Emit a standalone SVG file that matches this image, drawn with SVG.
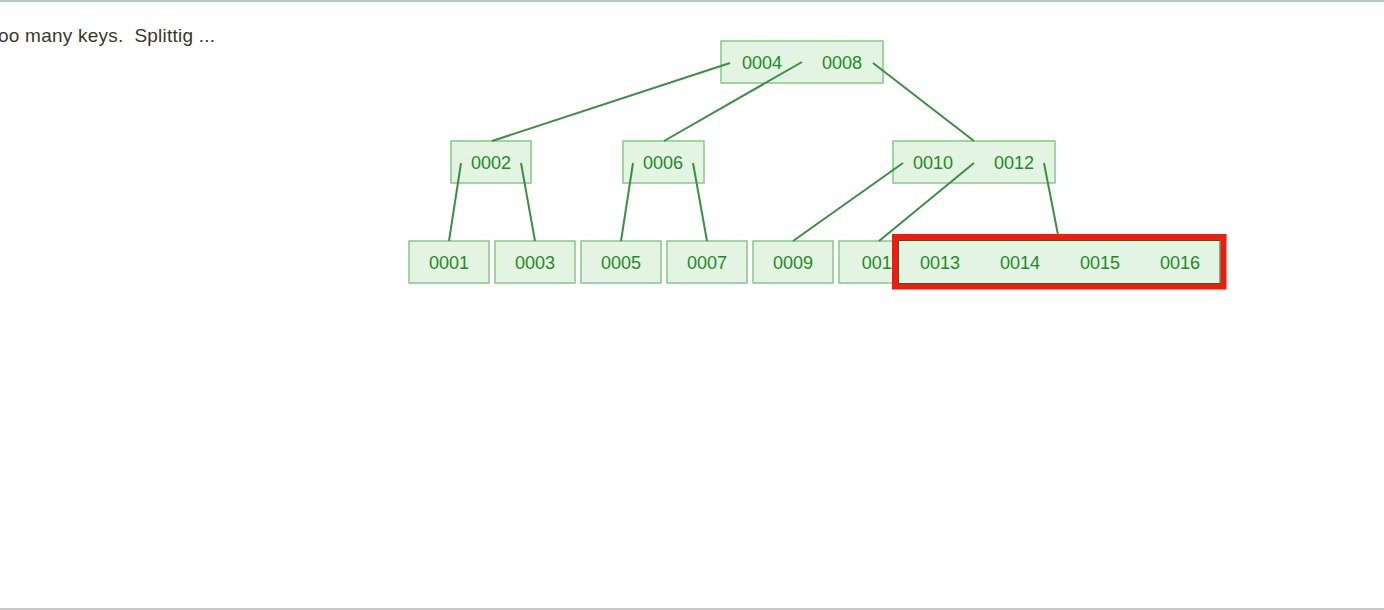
<svg xmlns="http://www.w3.org/2000/svg" width="1384" height="610" viewBox="0 0 1384 610">
<style>
.n{fill:#e3f4e3;stroke:#86c886;stroke-width:1.5}
.t{font-family:"Liberation Sans",Arial,sans-serif;font-size:18px;fill:#1f8a24;text-anchor:middle}
.e{stroke:#3a9040;stroke-width:2;fill:none}
</style>
<rect width="1384" height="610" fill="#ffffff"/>
<line x1="0" y1="1" x2="1384" y2="1" stroke="#9fb39f" stroke-width="1.5"/>
<line x1="0" y1="609" x2="1384" y2="609" stroke="#b5b5b5" stroke-width="1.5"/>
<text x="-2" y="42" font-family="'Liberation Sans',Arial,sans-serif" font-size="19" fill="#3b3626" style="white-space:pre" textLength="217">oo many keys.  Splittig ...</text>
<g id="root"><rect class="n" x="721" y="41" width="162" height="42"/><text class="t" x="762" y="69">0004</text><text class="t" x="842" y="69">0008</text></g>
<g id="n0002"><rect class="n" x="451" y="141" width="80" height="42"/><text class="t" x="491" y="169">0002</text></g>
<g id="n0006"><rect class="n" x="623" y="141" width="81" height="42"/><text class="t" x="663" y="169">0006</text></g>
<g id="n0010"><rect class="n" x="893" y="141" width="162" height="42"/><text class="t" x="933" y="169">0010</text><text class="t" x="1014" y="169">0012</text></g>
<g id="n0001"><rect class="n" x="409" y="241" width="80" height="42"/><text class="t" x="449" y="269">0001</text></g>
<g id="n0003"><rect class="n" x="495" y="241" width="80" height="42"/><text class="t" x="535" y="269">0003</text></g>
<g id="n0005"><rect class="n" x="581" y="241" width="80" height="42"/><text class="t" x="621" y="269">0005</text></g>
<g id="n0007"><rect class="n" x="667" y="241" width="80" height="42"/><text class="t" x="707" y="269">0007</text></g>
<g id="n0009"><rect class="n" x="753" y="241" width="80" height="42"/><text class="t" x="793" y="269">0009</text></g>
<g id="n0011"><rect class="n" x="839" y="241" width="80" height="42"/><text class="t" x="881" y="269">0011</text></g>
<g id="edges">
<line class="e" x1="730" y1="63" x2="492" y2="141"/>
<line class="e" x1="802" y1="62" x2="664" y2="141"/>
<line class="e" x1="873" y1="63" x2="974" y2="141"/>
<line class="e" x1="461" y1="163" x2="449" y2="241"/>
<line class="e" x1="521" y1="163" x2="535" y2="241"/>
<line class="e" x1="633" y1="163" x2="621" y2="241"/>
<line class="e" x1="693" y1="163" x2="707" y2="241"/>
<line class="e" x1="903" y1="163" x2="793" y2="241"/>
<line class="e" x1="974" y1="163" x2="879" y2="241"/>
<line class="e" x1="1044" y1="163" x2="1059" y2="240"/>
</g>
<g id="n0013"><rect x="895" y="237" width="328.5" height="49.5" fill="#e3f4e3" stroke="#ee1c0c" stroke-width="6"/><rect x="898.5" y="240.5" width="321.5" height="43" fill="none" stroke="#3c5a2a" stroke-width="1"/><text class="t" x="940" y="269">0013</text><text class="t" x="1020" y="269">0014</text><text class="t" x="1100" y="269">0015</text><text class="t" x="1180" y="269">0016</text></g>
</svg>
